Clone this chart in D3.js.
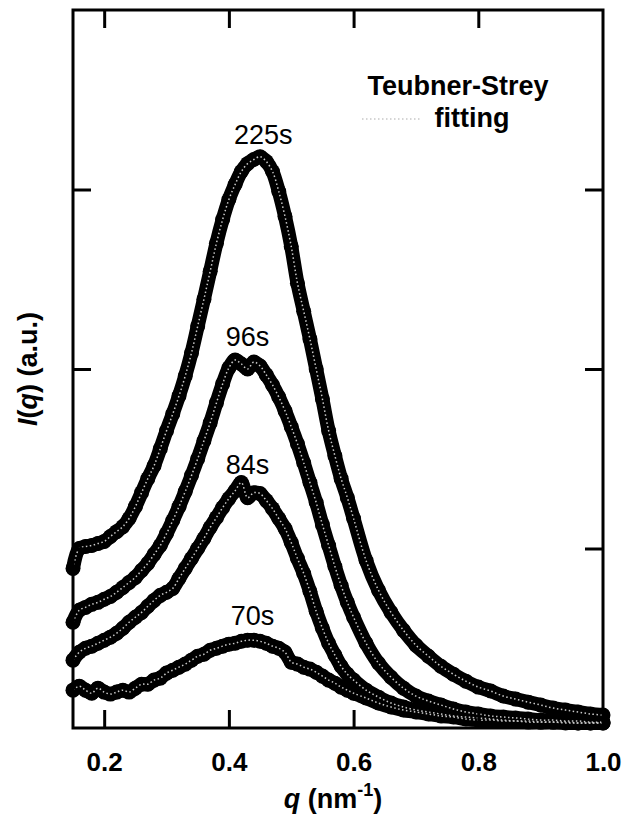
<!DOCTYPE html>
<html lang="en">
<head>
<meta charset="utf-8">
<style>
  body { margin: 0; background: #fff; }
  svg { display: block; font-family: "Liberation Sans", Arial, sans-serif; }
</style>
</head>
<body>
<script src="https://d3js.org/d3.v7.min.js"></script>
<script>
    var width = 627, height = 821;
    var margin = { left: 73, right: 24, top: 10, bottom: 93 };

    // scattering vector q (nm^-1)
    var qValues = [0.15, 0.16, 0.17, 0.18, 0.19, 0.20, 0.21, 0.22, 0.23, 0.24,
        0.25, 0.26, 0.27, 0.28, 0.29, 0.30, 0.31, 0.32, 0.33, 0.34,
        0.35, 0.36, 0.37, 0.38, 0.39, 0.40, 0.41, 0.42, 0.43, 0.44,
        0.45, 0.46, 0.47, 0.48, 0.49, 0.50, 0.51, 0.52, 0.53, 0.54,
        0.55, 0.56, 0.57, 0.58, 0.59, 0.60, 0.62, 0.64, 0.66, 0.68,
        0.70, 0.72, 0.74, 0.76, 0.78, 0.80, 0.82, 0.84, 0.86, 0.88,
        0.90, 0.92, 0.94, 0.96, 0.98, 1.00];

    // I(q), one array per time
    var i225 = [0.889, 1.000, 1.011, 1.017, 1.028, 1.039, 1.067, 1.094, 1.122, 1.167,
        1.233, 1.311, 1.389, 1.461, 1.556, 1.656, 1.750, 1.850, 1.961, 2.089,
        2.239, 2.389, 2.544, 2.700, 2.833, 2.944, 3.028, 3.100, 3.144, 3.167,
        3.183, 3.156, 3.100, 2.989, 2.850, 2.683, 2.478, 2.322, 2.167, 2.000,
        1.833, 1.656, 1.517, 1.389, 1.283, 1.167, 0.933, 0.767, 0.644, 0.544,
        0.461, 0.400, 0.344, 0.300, 0.261, 0.228, 0.206, 0.178, 0.161, 0.144,
        0.128, 0.111, 0.100, 0.089, 0.078, 0.072];
    var i96 = [0.589, 0.656, 0.672, 0.689, 0.700, 0.717, 0.733, 0.756, 0.783, 0.811,
        0.839, 0.878, 0.917, 0.967, 1.017, 1.083, 1.156, 1.233, 1.317, 1.406,
        1.500, 1.600, 1.700, 1.811, 1.917, 2.006, 2.050, 2.028, 2.000, 2.039,
        2.017, 1.967, 1.911, 1.844, 1.767, 1.678, 1.583, 1.478, 1.367, 1.256,
        1.133, 1.017, 0.900, 0.794, 0.700, 0.617, 0.472, 0.361, 0.283, 0.222,
        0.178, 0.150, 0.128, 0.106, 0.089, 0.078, 0.067, 0.061, 0.056, 0.050,
        0.044, 0.044, 0.039, 0.039, 0.033, 0.033];
    var i84 = [0.378, 0.422, 0.444, 0.456, 0.472, 0.489, 0.506, 0.528, 0.556, 0.589,
        0.617, 0.644, 0.678, 0.711, 0.739, 0.756, 0.778, 0.833, 0.889, 0.944,
        1.000, 1.056, 1.117, 1.172, 1.228, 1.278, 1.322, 1.367, 1.283, 1.311,
        1.306, 1.267, 1.222, 1.167, 1.111, 1.033, 0.944, 0.861, 0.761, 0.650,
        0.556, 0.472, 0.406, 0.344, 0.300, 0.267, 0.211, 0.172, 0.139, 0.117,
        0.100, 0.089, 0.078, 0.067, 0.061, 0.056, 0.050, 0.044, 0.039, 0.039,
        0.033, 0.033, 0.033, 0.028, 0.028, 0.028];
    var i70 = [0.211, 0.233, 0.211, 0.194, 0.222, 0.200, 0.189, 0.200, 0.211, 0.200,
        0.222, 0.244, 0.244, 0.267, 0.278, 0.306, 0.322, 0.339, 0.356, 0.378,
        0.400, 0.411, 0.433, 0.444, 0.456, 0.467, 0.472, 0.483, 0.489, 0.489,
        0.483, 0.472, 0.456, 0.444, 0.422, 0.367, 0.356, 0.339, 0.328, 0.311,
        0.289, 0.267, 0.250, 0.228, 0.211, 0.194, 0.167, 0.139, 0.117, 0.100,
        0.089, 0.078, 0.067, 0.061, 0.050, 0.044, 0.044, 0.039, 0.039, 0.033,
        0.033, 0.033, 0.028, 0.028, 0.028, 0.028];

    var seriesNames = ['225s', '96s', '84s', '70s'];
    var seriesValues = [i225, i96, i84, i70];
    // where each time label sits (q, I)
    var labelQ = [0.455, 0.43, 0.43, 0.438];
    var labelI = [3.256, 2.128, 1.417, 0.572];

    var xTicks = [0.2, 0.4, 0.6, 0.8, 1.0];
    var yTicks = [1, 2, 3];

    var svg = d3.select('body').append('svg').attr('width', width).attr('height', height);
    svg.append('rect').attr('width', width).attr('height', height).attr('fill', '#fff');

    var x = d3.scaleLinear().domain([0.15, 1.0]).range([margin.left, width - margin.right]);
    var y = d3.scaleLinear().domain([0, 4]).range([height - margin.bottom, margin.top]);

    var line = d3.line()
        .x(function (d) { return x(d.q) })
        .y(function (d) { return y(d.v) })
        .curve(d3.curveCatmullRom);

    var series = seriesValues.map(function (vals, k) {
        return {
            name: seriesNames[k],
            points: qValues.map(function (q, i) { return { q: q, v: vals[i] } })
        }
    });

    // data: thick black markers
    var g = svg.append('g');
    series.forEach(function (s) {
        g.append('path').datum(s.points)
            .attr('d', line)
            .attr('fill', 'none')
            .attr('stroke', '#000')
            .attr('stroke-width', 14)
            .attr('stroke-linejoin', 'round')
            .attr('stroke-linecap', 'round');
        g.selectAll(null).data(s.points).join('circle')
            .attr('cx', function (d) { return x(d.q) })
            .attr('cy', function (d) { return y(d.v) })
            .attr('r', 7.5)
            .attr('fill', '#000');
    });
    // dotted fitting lines
    series.forEach(function (s) {
        g.append('path').datum(s.points)
            .attr('d', line)
            .attr('fill', 'none')
            .attr('stroke', '#c8c8c8')
            .attr('stroke-width', 1.5)
            .attr('stroke-dasharray', '1.5,2.5');
    });

    // frame and inward ticks
    var axes = svg.append('g').attr('stroke-width', 3);
    axes.append('g').attr('transform', 'translate(0,' + y(0) + ')')
        .call(d3.axisBottom(x).tickValues(xTicks).tickSize(-18).tickSizeOuter(0).tickPadding(25)
            .tickFormat(d3.format('.1f')));
    axes.append('g').attr('transform', 'translate(0,' + y(4) + ')')
        .call(d3.axisTop(x).tickValues(xTicks.slice(0, 4)).tickSize(-18).tickSizeOuter(0).tickFormat(''));
    axes.append('g').attr('transform', 'translate(' + x(0.15) + ',0)')
        .call(d3.axisLeft(y).tickValues(yTicks).tickSize(-18).tickSizeOuter(0).tickFormat(''));
    axes.append('g').attr('transform', 'translate(' + x(1.0) + ',0)')
        .call(d3.axisRight(y).tickValues(yTicks).tickSize(-18).tickSizeOuter(0).tickFormat(''));
    axes.selectAll('.domain').remove();
    axes.selectAll('.tick line').attr('stroke', '#000').attr('stroke-width', 3);
    axes.selectAll('.tick text')
        .attr('fill', '#000')
        .style('font-size', '26px')
        .style('font-weight', 'bold')
        .style('font-family', '"Liberation Sans", Arial, sans-serif');

    svg.append('rect')
        .attr('x', x(0.15)).attr('y', y(4))
        .attr('width', x(1.0) - x(0.15)).attr('height', y(0) - y(4))
        .attr('fill', 'none').attr('stroke', '#000').attr('stroke-width', 3);

    // time labels
    svg.selectAll('.tlabel').data(series).join('text')
        .attr('class', 'tlabel')
        .attr('x', function (d, k) { return x(labelQ[k]) })
        .attr('y', function (d, k) { return y(labelI[k]) })
        .attr('text-anchor', 'middle')
        .style('font-size', '27px')
        .text(function (d) { return d.name });

    // legend
    svg.append('text').attr('x', 458).attr('y', 95).attr('text-anchor', 'middle')
        .style('font-size', '27px').style('font-weight', 'bold').text('Teubner-Strey');
    svg.append('text').attr('x', 472).attr('y', 127).attr('text-anchor', 'middle')
        .style('font-size', '27px').style('font-weight', 'bold').text('fitting');
    svg.append('line').attr('x1', 362).attr('x2', 420).attr('y1', 119).attr('y2', 119)
        .attr('stroke', '#c8c8c8').attr('stroke-width', 1.5).attr('stroke-dasharray', '1.5,2.5');

    // axis titles
    var xt = svg.append('text').attr('x', 333).attr('y', 808).attr('text-anchor', 'middle')
        .style('font-size', '27px').style('font-weight', 'bold');
    xt.append('tspan').style('font-style', 'italic').text('q');
    xt.append('tspan').text(' (nm');
    xt.append('tspan').attr('dy', -12).style('font-size', '18px').text('-1');
    xt.append('tspan').attr('dy', 12).text(')');

    var yt = svg.append('text').attr('transform', 'translate(37,369) rotate(-90)')
        .attr('text-anchor', 'middle')
        .style('font-size', '27px').style('font-weight', 'bold');
    yt.append('tspan').style('font-style', 'italic').text('I');
    yt.append('tspan').text('(');
    yt.append('tspan').style('font-style', 'italic').text('q');
    yt.append('tspan').text(') (a.u.)');

    console.log('ready..');
</script>
</body>
</html>
